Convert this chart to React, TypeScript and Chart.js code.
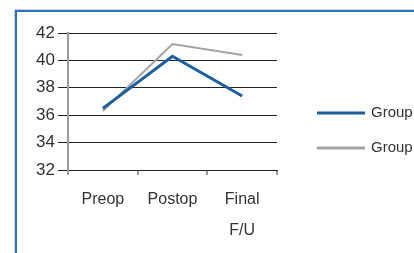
import React, { useEffect, useRef } from "react";
import { Chart, registerables } from "chart.js";

Chart.register(...registerables);

const categories: (string | string[])[] = ["Preop", "Postop", ["Final", "F/U"]];
const groupI = [36.5, 40.3, 37.4];
const groupII = [36.3, 41.2, 40.4];
const seriesLabels = ["Group I", "Group II"];
const yTicks = [32, 34, 36, 38, 40, 42];

const BLUE = "#1c5e9e";
const GRAY = "#a3a3a3";
const FONT = "'Liberation Sans Narrow', 'Arial Narrow', 'Liberation Sans', sans-serif";

const legendPlugin = {
  id: "sideLegend",
  afterDraw(chart: any) {
    const { ctx, chartArea } = chart;
    ctx.save();
    chart.data.datasets.forEach((ds: any, i: number) => {
      const y = chartArea.top + 80 + i * 35;
      const x0 = chartArea.right + 40;
      ctx.strokeStyle = ds.borderColor;
      ctx.lineWidth = 3;
      ctx.beginPath();
      ctx.moveTo(x0, y);
      ctx.lineTo(x0 + 48, y);
      ctx.stroke();
      ctx.fillStyle = "#333";
      ctx.font = `15px ${FONT}`;
      ctx.textBaseline = "middle";
      ctx.textAlign = "left";
      ctx.fillText(ds.label, x0 + 54, y);
    });
    ctx.restore();
  },
};

export default function App() {
  const ref = useRef<HTMLCanvasElement>(null);
  useEffect(() => {
    if (!ref.current) return;
    const chart = new Chart(ref.current, {
      type: "line",
      data: {
        labels: categories,
        datasets: [
          { label: seriesLabels[0], data: groupI, borderColor: BLUE, borderWidth: 3, pointRadius: 0, tension: 0 },
          { label: seriesLabels[1], data: groupII, borderColor: GRAY, borderWidth: 2, pointRadius: 0, tension: 0 },
        ],
      },
      options: {
        responsive: false,
        animation: false,
        layout: { padding: { left: 0, right: 137, top: 25, bottom: 0 } },
        plugins: { legend: { display: false }, tooltip: { enabled: false } },
        scales: {
          x: {
            offset: true,
            afterFit: (s: any) => { s.height = 83; },
            grid: { drawOnChartArea: false, drawTicks: true, tickLength: 5, color: "#9a9a9a", lineWidth: 2, offset: true },
            border: { color: "#222", width: 1 },
            ticks: { color: "#333", padding: 9, maxRotation: 0, font: { family: FONT, size: 16, lineHeight: 1.94 } },
          },
          y: {
            min: 32,
            max: 42,
            afterFit: (s: any) => { s.width = 60; },
            afterBuildTicks: (s: any) => { s.ticks = yTicks.map((v) => ({ value: v })); },
            grid: { color: "#222", lineWidth: 1, drawTicks: true, tickLength: 10 },
            border: { color: "#9a9a9a", width: 2 },
            ticks: { color: "#333", padding: 3, font: { family: FONT, size: 17 } },
          },
        },
      },
      plugins: [legendPlugin],
    });
    return () => chart.destroy();
  }, []);
  return (
    <div style={{ position: "fixed", left: 0, top: 0, width: 414, height: 253, overflow: "hidden", background: "#fff" }}>
      <div
        style={{
          position: "absolute",
          left: 15,
          top: 10,
          width: 500,
          height: 400,
          borderLeft: `2px solid #2b73bb`,
          borderTop: `2px solid #2b73bb`,
          boxShadow: "-1px -1px 0 #d0d0d0",
        }}
      />
      <canvas
        ref={ref}
        width={406}
        height={245}
        style={{ position: "absolute", left: 8, top: 8, display: "block", width: 406, height: 245 }}
      />
    </div>
  );
}
